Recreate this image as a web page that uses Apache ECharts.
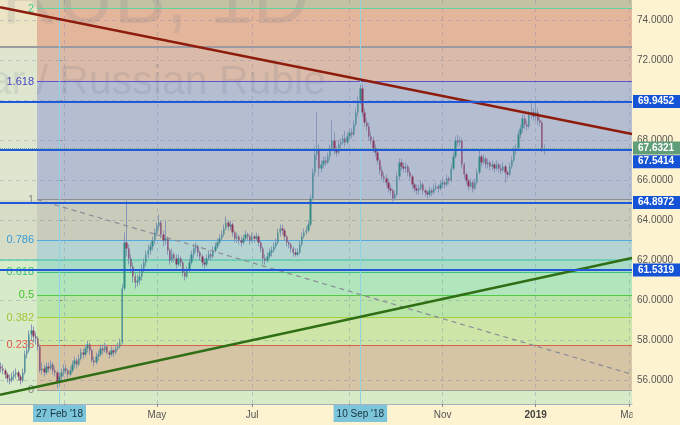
<!DOCTYPE html>
<html><head><meta charset="utf-8">
<script src="https://cdn.jsdelivr.net/npm/echarts@6/dist/echarts.min.js"></script>
<style>html,body{margin:0;padding:0;background:#fef3d0}#c{width:680px;height:425px}</style>
</head><body><div id="c"></div>
<script>
// ---- data ----
const firstBar = -27; // bar index of first candle (0 = 27 Feb 2018)
const ohlc = [
[56.7,56.6,56.4,56.9],[56.6,56.5,56.3,56.8],[56.5,56.3,56.1,56.6],[56.3,56.1,55.9,56.4],[56.1,56.0,55.8,56.3],[56.0,56.2,55.9,56.4],
[56.2,56.3,56.0,56.5],[56.3,56.4,56.1,56.6],[56.4,56.2,56.0,56.5],[56.2,56.0,55.8,56.3],[56.0,56.4,55.9,56.6],
[56.4,57.3,56.3,57.5],[57.3,57.5,57.1,57.8],[57.5,58.3,57.4,58.5],[58.3,58.5,58.0,58.8],[58.5,58.2,57.9,58.7],
[58.2,58.1,57.8,58.4],[58.1,57.7,57.5,58.2],[57.7,56.5,56.4,57.8],[56.5,56.6,56.3,56.9],[56.6,56.4,56.2,56.8],
[56.4,56.7,56.3,56.9],[56.7,56.6,56.4,56.9],[56.6,56.8,56.5,57.0],[56.8,56.5,56.3,56.9],[56.5,56.4,56.2,56.7],
[56.4,55.9,55.6,56.5],[55.9,56.2,55.7,56.4],[56.2,56.4,56.0,56.6],[56.4,56.6,56.2,56.8],[56.6,56.5,56.3,56.8],
[56.5,56.3,56.1,56.6],[56.3,56.5,56.2,56.7],[56.5,56.8,56.4,57.0],[56.8,57.0,56.6,57.2],[57.0,56.8,56.6,57.1],
[56.8,57.1,56.7,57.3],[57.1,57.4,57.0,57.6],[57.4,57.3,57.1,57.6],[57.3,57.6,57.2,57.8],[57.6,57.8,57.4,58.0],
[57.8,57.5,57.3,57.9],[57.5,57.0,56.9,57.6],[57.0,56.9,56.7,57.2],[56.9,57.2,56.8,57.4],[57.2,57.3,57.0,57.5],
[57.3,57.6,57.2,57.8],[57.6,57.5,57.3,57.8],[57.5,57.7,57.4,57.9],[57.7,57.4,57.3,57.8],[57.4,57.3,57.1,57.5],
[57.3,57.5,57.2,57.7],[57.5,57.4,57.2,57.6],[57.4,57.6,57.3,57.8],[57.6,57.7,57.5,57.9],[57.7,57.9,57.6,58.1],
[57.9,60.6,57.8,60.8],[60.6,62.9,60.5,63.4],[62.9,62.6,62.2,65.0],[62.6,62.1,61.8,62.8],[62.1,61.7,61.4,62.3],
[61.7,61.2,60.9,61.9],[61.2,60.9,60.6,61.4],[60.9,61.0,60.7,61.3],[61.0,61.2,60.8,61.5],[61.2,61.6,61.0,61.8],
[61.6,61.9,61.4,62.1],[61.9,62.3,61.7,62.5],[62.3,62.5,62.1,62.8],[62.5,62.7,62.3,62.9],[62.7,63.0,62.5,63.2],
[63.0,63.4,62.8,63.6],[63.4,63.7,63.2,63.9],[63.7,63.9,63.5,64.3],[63.9,63.3,63.1,64.0],[63.3,63.0,62.7,63.5],
[63.0,63.1,62.8,64.0],[63.1,62.5,62.3,63.2],[62.5,62.0,61.8,62.6],[62.0,62.3,61.9,62.6],[62.3,62.1,61.9,62.4],
[62.1,61.8,61.6,62.3],[61.8,62.1,61.7,62.3],[62.1,61.9,61.7,62.2],[61.9,61.4,61.2,62.0],[61.4,61.2,61.0,61.5],
[61.2,61.5,61.1,61.7],[61.5,61.9,61.4,62.1],[61.9,62.3,61.8,62.5],[62.3,62.6,62.1,62.8],[62.6,62.7,62.4,62.9],
[62.7,62.4,62.2,62.8],[62.4,62.2,62.0,62.5],[62.2,61.9,61.7,62.3],[61.9,61.8,61.6,62.1],[61.8,62.1,61.7,62.3],
[62.1,62.3,62.0,62.5],[62.3,62.2,62.0,62.4],[62.2,62.5,62.1,62.7],[62.5,62.7,62.4,62.9],[62.7,62.9,62.6,63.1],
[62.9,63.1,62.8,63.3],[63.1,63.3,63.0,63.5],[63.3,63.6,63.2,63.8],[63.6,63.9,63.5,64.2],[63.9,63.7,63.5,64.0],
[63.7,63.8,63.5,64.0],[63.8,63.4,63.2,63.9],[63.4,63.1,62.9,63.5],[63.1,63.2,62.9,63.4],[63.2,63.0,62.8,63.3],
[63.0,62.9,62.7,63.2],[62.9,63.1,62.8,63.3],[63.1,63.3,63.0,63.5],[63.3,63.2,63.0,63.4],[63.2,63.0,62.8,63.3],
[63.0,63.2,62.9,63.4],[63.2,63.1,62.9,63.3],[63.1,63.2,63.0,63.4],[63.2,62.9,62.7,63.3],[62.9,62.6,62.4,63.0],
[62.6,62.1,61.8,62.7],[62.1,62.0,61.8,62.3],[62.0,62.2,61.9,62.4],[62.2,62.4,62.1,62.6],[62.4,62.5,62.2,62.7],
[62.5,62.7,62.4,62.9],[62.7,62.9,62.6,63.1],[62.9,63.4,62.8,63.6],[63.4,63.6,63.2,63.8],[63.6,63.5,63.3,63.8],
[63.5,63.2,63.0,63.6],[63.2,62.9,62.7,63.3],[62.9,62.8,62.6,63.0],[62.8,62.6,62.4,62.9],[62.6,62.4,62.2,62.7],
[62.4,62.3,62.2,62.6],[62.3,62.4,62.2,62.6],[62.4,62.8,62.3,63.0],[62.8,63.2,62.7,63.4],[63.2,63.4,63.1,63.6],
[63.4,63.5,63.3,63.7],[63.5,63.8,63.4,64.0],[63.8,65.1,63.7,65.3],[65.1,66.4,65.0,66.6],[66.4,67.3,66.2,67.7],
[67.3,67.6,67.0,69.4],[67.6,66.6,66.2,67.8],[66.6,66.8,66.4,67.0],[66.8,67.0,66.6,67.2],[67.0,66.9,66.7,67.2],
[66.9,67.2,66.8,67.4],[67.2,67.6,67.0,67.8],[67.6,68.0,67.5,69.0],[68.0,67.5,67.3,68.4],[67.5,67.4,67.2,67.7],
[67.4,67.8,67.3,68.0],[67.8,67.9,67.6,68.1],[67.9,68.1,67.8,68.3],[68.1,67.9,67.7,68.5],[67.9,68.2,67.8,68.4],
[68.2,68.4,68.0,68.6],[68.4,68.3,68.1,68.6],[68.3,68.8,68.2,69.0],[68.8,69.4,68.7,69.6],[69.4,70.0,69.2,70.2],
[70.0,70.6,69.8,70.8],[70.6,69.4,69.2,70.8],[69.4,68.9,68.7,69.6],[68.9,68.7,68.5,69.1],[68.7,68.2,68.0,68.9],
[68.2,68.0,67.8,68.4],[68.0,67.6,67.4,68.2],[67.6,67.4,67.2,67.8],[67.4,67.0,66.8,67.6],[67.0,66.5,66.3,67.1],
[66.5,66.2,66.0,66.7],[66.2,66.1,65.9,66.4],[66.1,65.9,65.7,66.3],[65.9,65.6,65.4,66.1],[65.6,65.5,65.3,65.8],
[65.5,65.1,64.95,65.6],[65.1,65.3,65.0,65.5],[65.3,66.2,65.2,66.4],[66.2,66.9,66.0,67.1],[66.9,66.7,66.5,67.1],
[66.7,66.6,66.4,66.9],[66.6,66.7,66.4,66.9],[66.7,66.4,66.2,66.8],[66.4,66.2,66.0,66.6],[66.2,65.8,65.6,66.3],
[65.8,65.6,65.4,65.9],[65.6,65.5,65.3,65.8],[65.5,65.6,65.3,65.8],[65.6,65.8,65.5,66.0],[65.8,65.5,65.3,65.9],
[65.5,65.4,65.2,65.6],[65.4,65.3,65.1,65.5],[65.3,65.5,65.2,65.7],[65.5,65.4,65.2,65.6],[65.4,65.6,65.3,65.8],
[65.6,65.7,65.5,65.9],[65.7,65.6,65.4,65.8],[65.6,65.8,65.5,66.0],[65.8,65.9,65.6,66.1],[65.9,65.8,65.6,66.0],
[65.8,66.1,65.7,66.3],[66.1,66.0,65.8,66.2],[66.0,66.6,65.9,66.8],[66.6,67.2,66.5,67.4],[67.2,68.0,67.1,68.2],
[68.0,67.9,67.7,68.3],[67.9,68.0,67.7,68.2],[68.0,66.8,66.6,68.1],[66.8,66.3,66.1,66.9],[66.3,66.0,65.8,66.4],
[66.0,65.7,65.5,66.1],[65.7,65.9,65.6,66.1],[65.9,65.6,65.4,66.0],[65.6,65.9,65.5,66.1],[65.9,66.4,65.8,66.6],
[66.4,67.2,66.3,67.5],[67.2,66.9,66.7,67.3],[66.9,67.1,66.8,67.3],[67.1,66.8,66.6,67.2],[66.8,66.9,66.6,67.1],
[66.9,66.7,66.5,67.0],[66.7,66.8,66.5,67.0],[66.8,66.6,66.4,66.9],[66.6,66.8,66.5,67.0],[66.8,66.6,66.4,66.9],
[66.6,66.5,66.3,66.8],[66.5,66.7,66.4,66.9],[66.7,66.4,65.9,66.8],[66.4,66.3,66.1,66.5],[66.3,66.7,66.2,66.9],
[66.7,67.0,66.6,67.2],[67.0,67.5,66.9,67.7],[67.5,67.6,67.3,67.8],[67.6,68.3,67.5,68.5],[68.3,68.6,68.1,68.8],
[68.6,69.1,68.4,69.3],[69.1,68.8,68.6,69.3],[68.8,68.7,68.5,69.0],[68.7,69.3,68.6,69.5],[69.3,69.4,69.1,69.9],
[69.4,69.2,69.0,69.6],[69.2,69.4,69.0,70.0],[69.4,69.0,68.8,69.6],[69.0,68.9,68.7,69.2],[68.9,67.6,67.4,69.0],
[67.6,67.63,67.3,67.8]
];
const xTickIdx = [2, 45, 89, 134, 177, 220, 263];
const xLabelIdx = [45, 89, 177, 220, 263];
const xLabelText = ['May', 'Jul', 'Nov', '2019', 'Mar'];
const yTicks = [56, 58, 60, 62, 64, 66, 68, 70, 72, 74];
const fibNames = ['0', '0.236', '0.382', '0.5', '0.618', '0.786', '1', '1.618', '2'];
const fibPrices = [55.51, 57.76, 59.15, 60.28, 61.41, 63.01, 65.05, 70.95, 74.59];
const fibStart = -10.4;
const extraLines = [62.04, 72.69];
const priceLines = [69.9452, 67.5414, 64.8972, 61.5319];
const lastPrice = 67.6321;
const markIdx = [0, 139];
const markText = ["27 Feb '18", "10 Sep '18"];
const redLine = [[-27.5, 74.66], [264.5, 68.33]];
const greenLine = [[-27.5, 55.29], [264.5, 62.125]];
const dashLine = [[-10.4, 65.05], [264.5, 56.31]];
const xMin = -27.5, xMax = 264.5, yMin = 54.825, yMax = 75.025;

// ---- styles ----
const mainColors = ['#c3c2a3','#e3b69c','#dabaa8','#b5bdd1','#caccbb','#b4d3d1','#a9dcc6','#b1e6bd','#b9e5aa','#cde6a7','#d5c5a5','#d6ebc6'];
const leftColors = ['#ece4c5','#dfe6d0','#d6dcc6','#d8ebc8'];
const fibLineColors = ['#a0a0a0','#d9624f','#a6cf45','#55c84a','#3fbf7f','#55a9dc','#8f8f8f','#5a55d0','#5fd3a0'];
const fibLabelColors = ['#8a8a8a','#e05a4c','#a2c43a','#42c030','#3cc07c','#3b9bd6','#8a8a8a','#4545c0','#3dc98f'];

const candleData = ohlc.map((d, j) => [firstBar + j, d[0], d[1], d[2], d[3]]);
const wickData = ohlc.map((d, j) => [firstBar + j, d[2], d[3], d[2], d[3]]);

const mainBounds = [yMax, fibPrices[8], extraLines[1], fibPrices[7], fibPrices[6], fibPrices[5], extraLines[0],
  fibPrices[4], fibPrices[3], fibPrices[2], fibPrices[1], fibPrices[0], yMin];
const leftBounds = [yMax, extraLines[1], fibPrices[6], extraLines[0], yMin];
const bandData = [];
for (let k = 0; k < mainColors.length; k++) {
  bandData.push([{coord: [fibStart, mainBounds[k]], itemStyle: {color: mainColors[k], opacity: 1}}, {coord: [xMax, mainBounds[k + 1]]}]);
}
for (let k = 0; k < leftColors.length; k++) {
  bandData.push([{coord: [xMin, leftBounds[k]], itemStyle: {color: leftColors[k], opacity: 1}}, {coord: [fibStart, leftBounds[k + 1]]}]);
}

const fibLineData = fibPrices.map((p, k) => [
  {coord: [fibStart, p], lineStyle: {color: fibLineColors[k], width: 1, type: 'solid'},
   label: {show: true, position: 'start', distance: 3, formatter: fibNames[k], color: fibLabelColors[k], fontSize: 11}},
  {coord: [xMax, p]}
]);
fibLineData.push({yAxis: extraLines[0], lineStyle: {color: '#5ec8b0', width: 1.5, type: 'solid'}, label: {show: false}});
fibLineData.push({yAxis: extraLines[1], lineStyle: {color: '#9a9aa0', width: 2, type: 'solid'}, label: {show: false}});

const crossData = markIdx.map((ix, k) => ({
  xAxis: ix, lineStyle: {color: '#8fd3e2', width: 1, type: 'solid'},
  label: {show: true, position: 'start', formatter: markText[k], backgroundColor: '#7cc5da', color: '#17323f',
          padding: [4, 3, 3, 3], fontSize: 10, distance: 1}
}));

const priceData = priceLines.map((p, k) => ({
  yAxis: p, lineStyle: {color: '#1f58d8', width: 2, type: 'solid'},
  label: {show: true, position: 'end', formatter: p.toFixed(4), backgroundColor: '#1452d6', color: '#fff',
          fontWeight: 'bold', fontSize: 10, padding: [2, 6, 1, 5], distance: 1, offset: k === 1 ? [0, 12] : [0, 0]}
}));
priceData.push({
  yAxis: lastPrice, lineStyle: {color: '#6aa88a', width: 1, type: 'dotted'},
  label: {show: true, position: 'end', formatter: lastPrice.toFixed(4), backgroundColor: '#5f9e78', color: '#fff',
          fontWeight: 'bold', fontSize: 10, padding: [2, 6, 1, 5], distance: 1}
});

const chart = echarts.init(document.getElementById('c'));
chart.setOption({
  animation: false,
  backgroundColor: '#fef3d0',
  textStyle: {fontFamily: '"Liberation Sans", Arial, sans-serif'},
  grid: {left: 0, right: 48, top: 0, bottom: 21, containLabel: false},
  xAxis: {
    type: 'value', min: xMin, max: xMax, z: 2,
    axisLine: {show: true, onZero: false, lineStyle: {color: '#a9b0bf'}},
    axisTick: {show: true, length: 3, customValues: xTickIdx, lineStyle: {color: '#888'}},
    axisLabel: {customValues: xLabelIdx, color: '#555', fontSize: 10, margin: 6,
      formatter: v => { const k = xLabelIdx.indexOf(v); const t = k >= 0 ? xLabelText[k] : ''; return t === '2019' ? '{b|' + t + '}' : t; },
      rich: {b: {fontWeight: 'bold', color: '#444', fontSize: 10}}},
    splitLine: {show: true, lineStyle: {color: 'rgba(120,130,170,0.35)', type: [4, 4]}}
  },
  yAxis: {
    type: 'value', position: 'right', min: yMin, max: yMax, z: 2,
    axisLine: {show: true, lineStyle: {color: '#a9b0bf'}},
    axisTick: {show: true, length: 3, customValues: yTicks, lineStyle: {color: '#888'}},
    axisLabel: {customValues: yTicks, formatter: v => v.toFixed(4), color: '#555', fontSize: 10, margin: 5},
    splitLine: {show: true, lineStyle: {color: 'rgba(120,130,170,0.35)', type: [4, 4]}}
  },
  graphic: [
    {type: 'text', z: 2.5, silent: true, style: {text: 'USD/RUB, 1D', x: 309, y: 1, align: 'right', textAlign: 'right',
      verticalAlign: 'middle', textVerticalAlign: 'middle', font: '78px "Liberation Sans"', fill: 'rgba(85,90,120,0.12)'}},
    {type: 'text', z: 2.5, silent: true, style: {text: 'U.S. Dollar / Russian Ruble', x: 326, y: 82.6, align: 'right', textAlign: 'right',
      verticalAlign: 'middle', textVerticalAlign: 'middle', font: '41px "Liberation Sans"', fill: 'rgba(85,90,120,0.12)'}},
    {type: 'rect', z: 10, silent: true, shape: {x: 632.5, y: 405, width: 48, height: 20}, style: {fill: '#fef3d0'}}
  ],
  series: [
    {type: 'line', data: [], silent: true, clip: false,
     markArea: {silent: true, z: 1, data: bandData}},
    {type: 'line', data: [], silent: true, clip: false,
     markLine: {silent: true, z: 3, symbol: ['none', 'none'], data: fibLineData}},
    {type: 'line', data: [], silent: true, clip: false,
     markLine: {silent: true, z: 3.5, symbol: ['none', 'none'], data: crossData}},
    {type: 'candlestick', z: 4, silent: true, data: wickData, barWidth: 1,
     itemStyle: {color: '#8393b6', color0: '#8393b6', borderColor: '#8393b6', borderColor0: '#8393b6', borderWidth: 1, opacity: 0.95}},
    {type: 'candlestick', z: 4.2, silent: true, data: candleData, barWidth: 1.9,
     itemStyle: {color: '#318a86', color0: '#8a335a', borderColor: '#318a86', borderColor0: '#8a335a', borderWidth: 0}},
    {type: 'line', z: 5, silent: true, data: dashLine, symbol: 'none', lineStyle: {color: '#8c8c98', width: 1.2, type: [5, 4]}},
    {type: 'line', z: 5, silent: true, data: redLine, symbol: 'none', lineStyle: {color: '#8e1c0c', width: 2.5}},
    {type: 'line', z: 5, silent: true, data: greenLine, symbol: 'none', lineStyle: {color: '#2f6e14', width: 2.5}},
    {type: 'line', data: [], silent: true, clip: false,
     markLine: {silent: true, z: 6, symbol: ['none', 'none'], data: priceData}}
  ]
});
</script>
</body></html>
